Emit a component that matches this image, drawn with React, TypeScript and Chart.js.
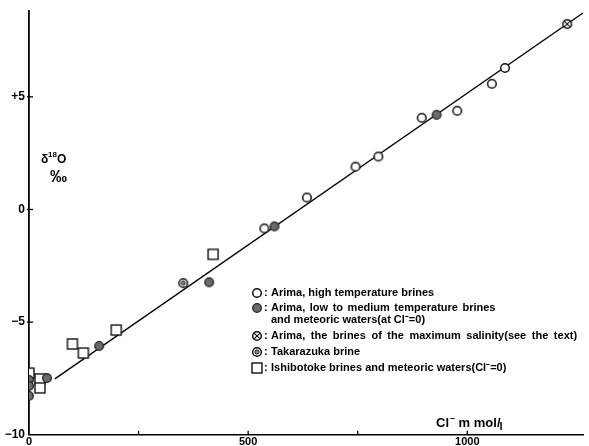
import React, { useEffect, useRef } from 'react';
import { Chart, registerables } from 'chart.js';
Chart.register(...registerables);

const FONT = '"Liberation Sans", Arial, sans-serif';

// Arima, high temperature brines (open circles)
const highTempX = [537, 634, 745, 797, 896, 977, 1056, 1086];
const highTempY = [-0.84, 0.53, 1.9, 2.35, 4.07, 4.38, 5.58, 6.28];
// Arima, low to medium temperature brines and meteoric waters (filled circles)
const lowTempX = [560, 411, 160, 930, 41, 0, 0, 0];
const lowTempY = [-0.75, -3.23, -6.06, 4.2, -7.48, -7.57, -7.83, -8.27];
// Arima, brines of maximum salinity
const maxSalX = [1228];
const maxSalY = [8.23];
// Takarazuka brine
const takarazukaX = [352];
const takarazukaY = [-3.27];
// Ishibotoke brines and meteoric waters (squares)
const ishibotokeX = [420, 199, 99, 124, 0, 25, 25];
const ishibotokeY = [-1.99, -5.35, -5.97, -6.37, -7.26, -7.52, -7.92];
// mixing line
const lineX = [59, 1264];
const lineY = [-7.52, 8.72];

const xLabelTicks = [0, 500, 1000];
const xMinorTicks = [250, 500, 750, 1000];
const yTickValues = [-10, -5, 0, 5];

const legendLabels = [
  'Arima, high temperature brines',
  'Arima, low to medium temperature brines',
  'Arima, the brines of the maximum salinity(see the text)',
  'Takarazuka brine',
  'Ishibotoke brines and meteoric waters(Cl\u207B=0)',
];
const legendSecondLine = 'and meteoric waters(at Cl\u207B=0)';

type Kind = 'open' | 'filled' | 'otimes' | 'double' | 'square';

function makeMarker(kind: Kind): HTMLCanvasElement {
  const c = document.createElement('canvas');
  const s = 14;
  c.width = s;
  c.height = s;
  const g = c.getContext('2d')!;
  const m = s / 2;
  g.strokeStyle = '#111';
  if (kind === 'square') {
    g.fillStyle = '#fff';
    g.lineWidth = 1.4;
    g.fillRect(2, 2, 10, 10);
    g.strokeRect(2, 2, 10, 10);
    return c;
  }
  const r = 4.3;
  g.beginPath();
  g.arc(m, m, r, 0, Math.PI * 2);
  if (kind === 'filled') {
    g.fillStyle = '#6a6a6a';
    g.fill();
    g.lineWidth = 1.3;
    g.strokeStyle = '#222';
    g.stroke();
    return c;
  }
  g.fillStyle = '#fff';
  g.fill();
  g.lineWidth = 1.5;
  g.stroke();
  if (kind === 'otimes') {
    const d = r * 0.68;
    g.lineWidth = 1.1;
    g.beginPath();
    g.moveTo(m - d, m - d);
    g.lineTo(m + d, m + d);
    g.moveTo(m + d, m - d);
    g.lineTo(m - d, m + d);
    g.stroke();
  } else if (kind === 'double') {
    g.beginPath();
    g.arc(m, m, 2.1, 0, Math.PI * 2);
    g.fillStyle = '#888';
    g.fill();
    g.lineWidth = 0.9;
    g.stroke();
  }
  return c;
}

function pts(xs: number[], ys: number[]) {
  return xs.map((x, i) => ({ x, y: ys[i] }));
}

export default function App() {
  const ref = useRef<HTMLCanvasElement>(null);

  useEffect(() => {
    const canvas = ref.current!;
    const mk = {
      open: makeMarker('open'),
      filled: makeMarker('filled'),
      otimes: makeMarker('otimes'),
      double: makeMarker('double'),
      square: makeMarker('square'),
    };

    const decor = {
      id: 'decor',
      afterDraw(chart: any) {
        const ctx = chart.ctx as any;
        const xs = chart.scales.x;
        const ys = chart.scales.y;
        const area = chart.chartArea;
        ctx.save();
        ctx.strokeStyle = '#000';
        ctx.lineWidth = 1.3;
        // inner tick marks
        xMinorTicks.forEach((v) => {
          const px = xs.getPixelForValue(v);
          ctx.beginPath();
          ctx.moveTo(px, area.bottom);
          ctx.lineTo(px, area.bottom - 4);
          ctx.stroke();
        });
        [-5, 0, 5].forEach((v) => {
          const py = ys.getPixelForValue(v);
          ctx.beginPath();
          ctx.moveTo(area.left - 2, py);
          ctx.lineTo(area.left + 4, py);
          ctx.stroke();
        });

        ctx.fillStyle = '#000';
        ctx.textBaseline = 'alphabetic';
        ctx.textAlign = 'left';
        // delta 18 O label
        ctx.font = `bold 12px ${FONT}`;
        ctx.fillText('\u03B4', 41, 163);
        ctx.font = `bold 8px ${FONT}`;
        ctx.fillText('18', 48, 157);
        ctx.font = `bold 12px ${FONT}`;
        ctx.fillText('O', 57, 163);
        ctx.font = `bold 17px ${FONT}`;
        ctx.fillText('\u2030', 50, 182);

        // axis unit label
        ctx.font = `bold 13px ${FONT}`;
        let x = 436;
        ctx.fillText('Cl', x, 427);
        x += ctx.measureText('Cl').width + 1;
        ctx.font = `bold 9px ${FONT}`;
        ctx.fillText('\u2013', x, 421);
        x += ctx.measureText('\u2013').width;
        ctx.font = `bold 13px ${FONT}`;
        ctx.wordSpacing = '3px';
        ctx.fillText(' m mol/', x, 427);
        x += ctx.measureText(' m mol/').width;
        ctx.wordSpacing = '0px';
        ctx.font = `bold 11px ${FONT}`;
        ctx.fillText('l', x - 1, 430);

        // legend
        const rows: { img: HTMLCanvasElement; y: number; text: string; ws: number }[] = [
          { img: mk.open, y: 293, text: legendLabels[0], ws: 0 },
          { img: mk.filled, y: 308, text: legendLabels[1], ws: 1.5 },
          { img: mk.otimes, y: 336, text: legendLabels[2], ws: 2.5 },
          { img: mk.double, y: 352, text: legendLabels[3], ws: 0 },
          { img: mk.square, y: 368, text: legendLabels[4], ws: 0 },
        ];
        ctx.font = `bold 11px ${FONT}`;
        ctx.textBaseline = 'middle';
        rows.forEach((r) => {
          ctx.drawImage(r.img, 257 - 7, r.y - 7);
          ctx.wordSpacing = '0px';
          ctx.fillText(':', 264, r.y);
          ctx.wordSpacing = r.ws + 'px';
          ctx.fillText(r.text, 271, r.y);
        });
        ctx.wordSpacing = '0px';
        ctx.fillText(legendSecondLine, 271, 320);
        ctx.restore();
      },
    };

    const chart = new Chart(canvas, {
      type: 'scatter',
      data: {
        datasets: [
          {
            label: legendLabels[0],
            data: pts(highTempX, highTempY),
            pointStyle: mk.open,
            pointRadius: 5,
          },
          {
            label: legendLabels[1],
            data: pts(lowTempX, lowTempY),
            pointStyle: mk.filled,
            pointRadius: 5,
          },
          {
            label: legendLabels[2],
            data: pts(maxSalX, maxSalY),
            pointStyle: mk.otimes,
            pointRadius: 5,
          },
          {
            label: legendLabels[3],
            data: pts(takarazukaX, takarazukaY),
            pointStyle: mk.double,
            pointRadius: 5,
          },
          {
            label: legendLabels[4],
            data: pts(ishibotokeX, ishibotokeY),
            pointStyle: mk.square,
            pointRadius: 5,
          },
          {
            type: 'line',
            label: 'line',
            data: pts(lineX, lineY),
            borderColor: '#000',
            borderWidth: 1.4,
            pointRadius: 0,
            fill: false,
          } as any,
        ],
      },
      options: {
        responsive: false,
        animation: false,
        layout: { padding: { top: 10, right: 0, left: 0, bottom: 0 } },
        plugins: { legend: { display: false }, tooltip: { enabled: false } },
        scales: {
          x: {
            type: 'linear',
            min: 0,
            max: 1264,
            afterFit: (s: any) => {
              s.height = 11;
            },
            afterBuildTicks: (s: any) => {
              s.ticks = xLabelTicks.map((v) => ({ value: v }));
            },
            ticks: {
              autoSkip: false,
              maxRotation: 0,
              padding: 1,
              color: '#000',
              font: { family: FONT, size: 11, weight: 'bold' },
              callback: (v: any) => String(v),
            },
            grid: { display: false, drawTicks: false },
            border: { display: true, color: '#000', width: 1.6 },
          },
          y: {
            type: 'linear',
            min: -10,
            max: 8.8,
            afterFit: (s: any) => {
              s.width = 29;
            },
            afterBuildTicks: (s: any) => {
              s.ticks = yTickValues.map((v) => ({ value: v }));
            },
            ticks: {
              autoSkip: false,
              padding: 4,
              color: '#000',
              font: { family: FONT, size: 12, weight: 'bold' },
              callback: (v: any) =>
                v > 0 ? '+' + v : v < 0 ? '\u2212' + Math.abs(v) : '0',
            },
            grid: { display: false, drawTicks: false },
            border: { display: true, color: '#000', width: 1.8 },
          },
        },
      },
      plugins: [decor],
    } as any);
    return () => chart.destroy();
  }, []);

  return (
    <div style={{ position: 'absolute', left: 0, top: 0, width: 589, height: 446, background: '#fff' }}>
      <canvas ref={ref} width={589} height={446} />
    </div>
  );
}
